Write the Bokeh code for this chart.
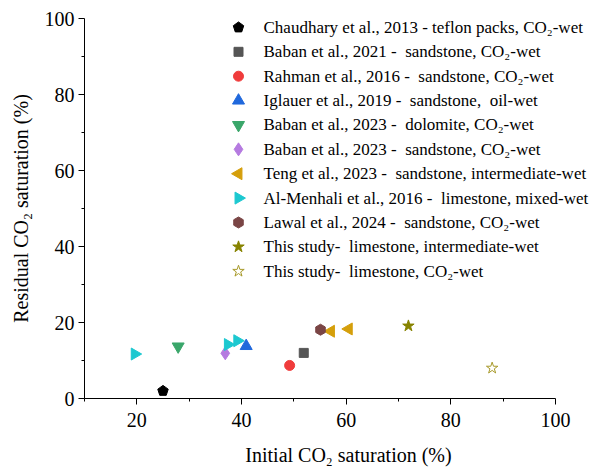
import math
from bokeh.plotting import figure
from bokeh.models import Range1d, FixedTicker
from bokeh.core.properties import value
from bokeh.embed import file_html
from bokeh.resources import INLINE

# ---- data ----
chaudhary_x = [25.0]; chaudhary_y = [2.0]
baban2021_x = [51.9]; baban2021_y = [12.0]
rahman_x = [49.2]; rahman_y = [8.7]
iglauer_x = [40.9]; iglauer_y = [13.8]
baban2023_dol_x = [27.9]; baban2023_dol_y = [13.7]
baban2023_ss_x = [36.9]; baban2023_ss_y = [11.9]
teng_x = [57.1, 60.5]; teng_y = [17.7, 18.3]
almenhali_x = [19.6, 37.4, 39.2]; almenhali_y = [11.7, 14.2, 15.2]
lawal_x = [55.1]; lawal_y = [18.1]
this_int_x = [71.9]; this_int_y = [19.1]
this_co2_x = [87.9]; this_co2_y = [8.0]

NB = "\u00a0"
legend_labels = [
    "Chaudhary et al., 2013 - teflon packs, CO\u2082-wet",
    "Baban et al., 2021 - " + NB + "sandstone, CO\u2082-wet",
    "Rahman et al., 2016 - " + NB + "sandstone, CO\u2082-wet",
    "Iglauer et al., 2019 - " + NB + "sandstone, " + NB + "oil-wet",
    "Baban et al., 2023 - " + NB + "dolomite, CO\u2082-wet",
    "Baban et al., 2023 - " + NB + "sandstone, CO\u2082-wet",
    "Teng et al., 2023 - " + NB + "sandstone, intermediate-wet",
    "Al-Menhali et al., 2016 - " + NB + "limestone, mixed-wet",
    "Lawal et al., 2024 - " + NB + "sandstone, CO\u2082-wet",
    "This study- " + NB + "limestone, intermediate-wet",
    "This study- " + NB + "limestone, CO\u2082-wet",
]

x_major = [20, 40, 60, 80, 100]
x_minor = [10, 30, 50, 70, 90]
y_major = [0, 20, 40, 60, 80, 100]
y_minor = [10, 30, 50, 70, 90]

FONT = "Liberation Serif"

# frame spans to the right edge; the x axis itself stops at 100
p = figure(width=612, height=468, output_backend="svg", toolbar_location=None,
           x_range=Range1d(10, 110.9), y_range=Range1d(0, 100),
           min_border_left=84, min_border_right=0, min_border_top=18, min_border_bottom=68)
p.outline_line_color = None
p.xgrid.visible = False
p.ygrid.visible = False

for ax, maj, mnr in ((p.xaxis[0], x_major, x_minor), (p.yaxis[0], y_major, y_minor)):
    ax.ticker = FixedTicker(ticks=maj, minor_ticks=mnr)
    ax.axis_line_color = "black"
    ax.major_tick_line_color = "black"
    ax.minor_tick_line_color = "black"
    ax.major_tick_out = 6
    ax.major_tick_in = 0
    ax.minor_tick_out = 3
    ax.minor_tick_in = 0
    ax.major_label_text_font = FONT
    ax.major_label_text_font_size = "20px"
    ax.major_label_text_color = "black"
    ax.axis_label_text_font = FONT
    ax.axis_label_text_font_size = "20px"
    ax.axis_label_text_font_style = "normal"
    ax.axis_label_text_color = "black"

p.xaxis.bounds = (10, 100)
p.xaxis.axis_label = "Initial CO\u2082 saturation (%)"
p.yaxis.axis_label = "Residual CO\u2082 saturation (%)"
p.xaxis.major_label_standoff = 8
p.yaxis.major_label_standoff = 4
p.xaxis.axis_label_standoff = 14
p.yaxis.axis_label_standoff = 10

# legend coordinate system: x in pixels from the marker column, y = row index (downwards)
p.extra_x_ranges = {"leg": Range1d(-154, 374)}
p.extra_y_ranges = {"leg": Range1d(15.22, -0.367)}

series = [
    (chaudhary_x, chaudhary_y, dict(kind="ngon", n=5, radius=5.5, angle=0, color="black")),
    (baban2021_x, baban2021_y, dict(marker="square", size=9, color="#555555")),
    (rahman_x, rahman_y, dict(marker="circle", size=10, color="#f03c3c")),
    (iglauer_x, iglauer_y, dict(marker="triangle", size=12, color="#2068dc")),
    (baban2023_dol_x, baban2023_dol_y, dict(marker="inverted_triangle", size=12, color="#3aa66a")),
    (baban2023_ss_x, baban2023_ss_y, dict(marker="diamond", size=13, color="#b57ae0")),
    (teng_x, teng_y, dict(marker="triangle", size=12, angle=math.pi / 2, color="#d59f0b")),
    (almenhali_x, almenhali_y, dict(marker="triangle", size=12, angle=-math.pi / 2, color="#1cc8d0")),
    (lawal_x, lawal_y, dict(marker="hex", size=11, angle=math.pi / 2, color="#7a4545")),
    (this_int_x, this_int_y, dict(marker="star", size=12, color="#878300")),
    (this_co2_x, this_co2_y, dict(marker="star", size=12, fill_alpha=0, line_color="#a89a2a", line_width=1)),
]


def draw(xs, ys, style, **rng):
    st = dict(style)
    if st.pop("kind", None) == "ngon":
        r = st.pop("radius")
        p.ngon(xs, ys, radius=r, radius_units="screen", **st, **rng)
    else:
        p.scatter(xs, ys, **st, **rng)


for i, (xs, ys, style) in enumerate(series):
    draw(xs, ys, style)
    draw([0], [i], style, x_range_name="leg", y_range_name="leg")

p.text(x=[25] * len(legend_labels), y=list(range(len(legend_labels))), text=legend_labels,
       x_range_name="leg", y_range_name="leg",
       text_font=value(FONT), text_font_size="17px", text_color="black",
       text_align="left", text_baseline="middle")

open("out.html", "w").write(file_html(p, INLINE))
